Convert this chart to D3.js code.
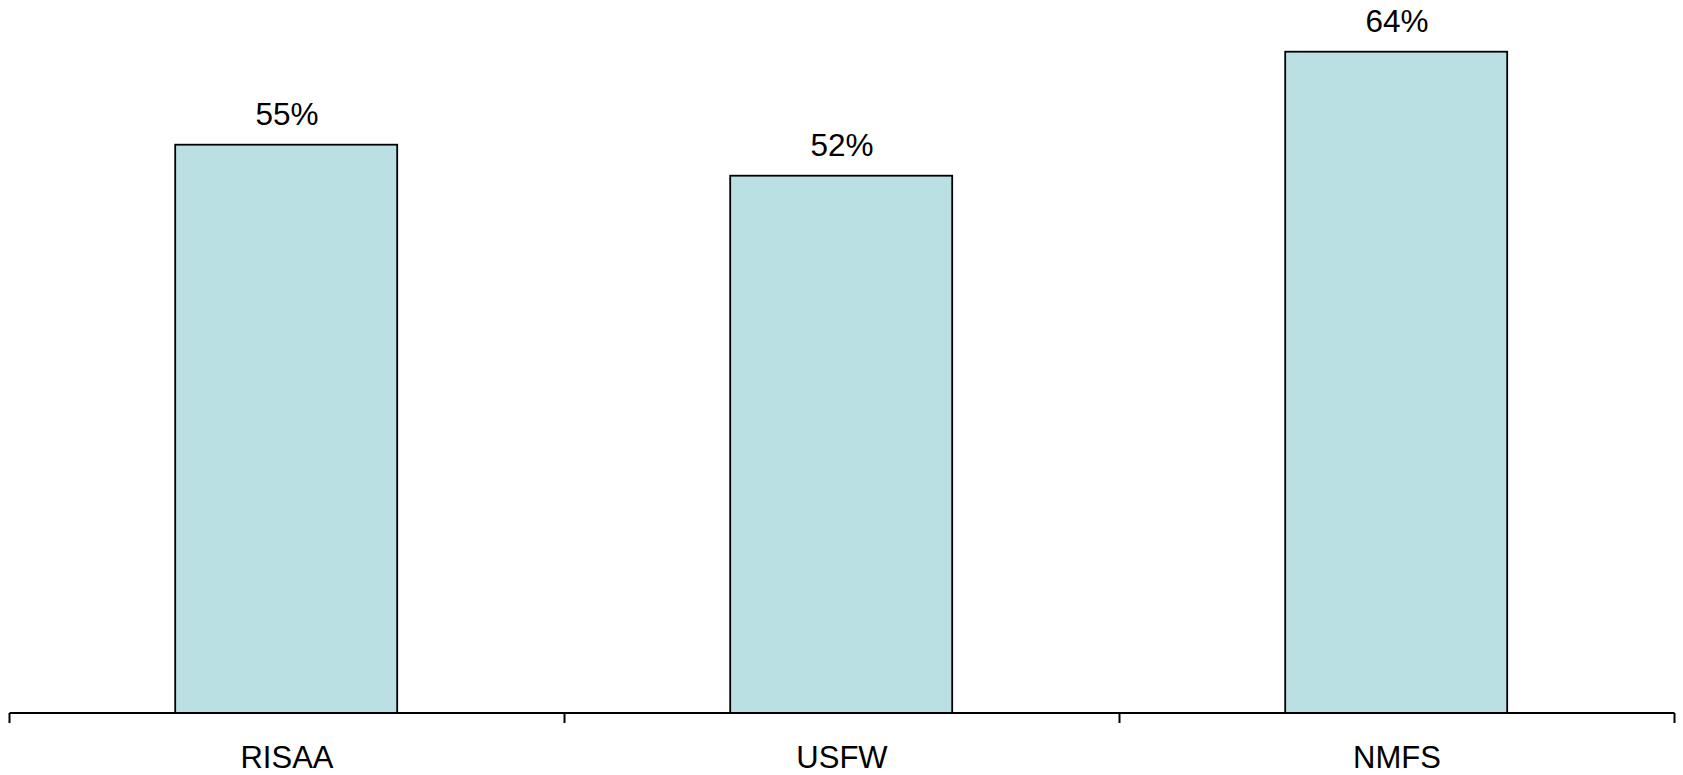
<!DOCTYPE html>
<html>
<head>
<meta charset="utf-8">
<script src="https://cdn.jsdelivr.net/npm/d3@7"></script>
<style>
  html, body { margin: 0; padding: 0; background: #ffffff; }
  svg { display: block; }
  text { font-family: "Liberation Sans", Arial, sans-serif; fill: #000; }
</style>
</head>
<body>
<svg id="chart" width="1683" height="775"></svg>
<script>
const categories = ["RISAA", "USFW", "NMFS"];
const values = [55, 52, 64];
const valueLabels = ["55%", "52%", "64%"];

const svg = d3.select("#chart");
const axisY = 713;
const x = d3.scaleBand().domain(categories).range([9.5, 1674.5]).paddingInner(0).paddingOuter(0);
const y = d3.scaleLinear().domain([0, 64]).range([axisY, 51.7]);
const barFrac = 0.4;

const data = categories.map((c, i) => ({ c, v: values[i], label: valueLabels[i] }));

// bars
svg.selectAll("rect.bar").data(data).enter().append("rect")
  .attr("class", "bar")
  .attr("x", d => x(d.c) + x.bandwidth() * (1 - barFrac) / 2 - 0.8)
  .attr("width", x.bandwidth() * barFrac)
  .attr("y", d => y(d.v))
  .attr("height", d => y(0) - y(d.v))
  .attr("fill", "#bae0e3")
  .attr("stroke", "#000")
  .attr("stroke-width", 1.8);

// value labels
svg.selectAll("text.val").data(data).enter().append("text")
  .attr("class", "val")
  .attr("x", d => x(d.c) + x.bandwidth() / 2)
  .attr("y", d => y(d.v) - 19.5)
  .attr("text-anchor", "middle")
  .attr("font-size", 31.5)
  .text(d => d.label);

// x axis line
const xr = x.range();
svg.append("line")
  .attr("x1", xr[0]).attr("x2", xr[1])
  .attr("y1", axisY).attr("y2", axisY)
  .attr("stroke", "#000").attr("stroke-width", 2);

// ticks at band boundaries
const tickPos = categories.map(c => x(c)).concat([x(categories[categories.length - 1]) + x.bandwidth()]);
svg.selectAll("line.tick").data(tickPos).enter().append("line")
  .attr("class", "tick")
  .attr("x1", d => d).attr("x2", d => d)
  .attr("y1", axisY).attr("y2", axisY + 10)
  .attr("stroke", "#000").attr("stroke-width", 2);

// category labels
svg.selectAll("text.cat").data(categories).enter().append("text")
  .attr("class", "cat")
  .attr("x", d => x(d) + x.bandwidth() / 2)
  .attr("y", 768)
  .attr("text-anchor", "middle")
  .attr("font-size", 31)
  .text(d => d);
</script>
</body>
</html>
